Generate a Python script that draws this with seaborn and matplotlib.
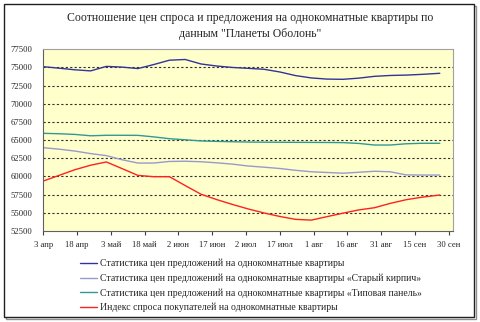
import matplotlib
matplotlib.use("Agg")
import matplotlib.pyplot as plt
from matplotlib.patches import Rectangle
import pandas as pd
import seaborn as sns

# Observation dates (2008)
dates = [
    "2008-04-03", "2008-04-10", "2008-04-17", "2008-04-24", "2008-05-01",
    "2008-05-08", "2008-05-15", "2008-05-22", "2008-05-29", "2008-06-05",
    "2008-06-12", "2008-06-19", "2008-06-26", "2008-07-03", "2008-07-10",
    "2008-07-17", "2008-07-24", "2008-07-31", "2008-08-07", "2008-08-14",
    "2008-08-21", "2008-08-28", "2008-09-04", "2008-09-11", "2008-09-18",
    "2008-09-26",
]

# Offer price statistics, all one-room flats
offer_all = [75110, 74900, 74680, 74530, 75150, 75050, 74850, 75400, 76000, 76100,
             75480, 75200, 75000, 74880, 74750, 74380, 73880, 73560, 73400, 73370,
             73530, 73780, 73900, 73950, 74050, 74200]
# Offer price statistics, "old brick" buildings
offer_brick = [63960, 63760, 63500, 63150, 62870, 62300, 61850, 61850, 62070, 62100,
               62030, 61880, 61700, 61440, 61280, 61100, 60850, 60650, 60550, 60450,
               60580, 60720, 60650, 60220, 60200, 60200]
# Offer price statistics, standard panel buildings
offer_panel = [65940, 65880, 65790, 65600, 65670, 65670, 65660, 65450, 65200, 65050,
               64890, 64830, 64780, 64740, 64720, 64710, 64700, 64690, 64680, 64660,
               64550, 64330, 64330, 64500, 64570, 64570]
# Buyers' demand index
demand = [59380, 60150, 60930, 61550, 62000, 61080, 60150, 59970, 59970, 58750,
          57560, 56820, 56150, 55530, 54980, 54500, 54100, 54000, 54480, 54950,
          55400, 55700, 56300, 56800, 57150, 57450]

series_names = [
    "Статистика цен предложений на однокомнатные квартиры",
    "Статистика цен предложений на однокомнатные квартиры «Старый кирпич»",
    "Статистика цен предложений на однокомнатные квартиры «Типовая панель»",
    "Индекс спроса покупателей на однокомнатные квартиры",
]
series_colors = ["#333399", "#9999CC", "#2E9A96", "#FF2020"]

x_tick_labels = ["3 апр", "18 апр", "3 май", "18 май", "2 июн", "17 июн", "2 июл",
                 "17 июл", "1 авг", "16 авг", "31 авг", "15 сен", "30 сен"]
y_ticks = [52500, 55000, 57500, 60000, 62500, 65000, 67500, 70000, 72500, 75000, 77500]

title = ("Соотношение цен спроса и предложения на однокомнатные квартиры по\n"
         "данным \"Планеты Оболонь\"")

start = pd.Timestamp(dates[0])
days = [(pd.Timestamp(d) - start).days for d in dates]

frames = []
for name, vals in zip(series_names, [offer_all, offer_brick, offer_panel, demand]):
    frames.append(pd.DataFrame({"day": days, "value": vals, "series": name}))
df = pd.concat(frames, ignore_index=True)

sns.set_theme(style="white")
plt.rcParams["font.family"] = ["Liberation Serif", "DejaVu Serif"]

fig = plt.figure(figsize=(4.8, 3.22), dpi=100)
fig.patch.set_facecolor("white")

# outer chart border with a thin shadow on the right/bottom
fig.add_artist(Rectangle((6 / 480, 1 - 318.5 / 322), 470 / 480, 313 / 322,
                         transform=fig.transFigure, fill=False,
                         edgecolor="#909090", linewidth=1.0, zorder=-3))
fig.add_artist(Rectangle((4 / 480, 1 - 317 / 322), 470 / 480, 313 / 322,
                         transform=fig.transFigure, facecolor="white",
                         edgecolor="#202020", linewidth=1.0, zorder=-2))

ax = fig.add_axes([43.3 / 480, 1 - 231 / 322, 410 / 480, 181.7 / 322])
ax.set_facecolor("#FFFFCC")

sns.lineplot(data=df, x="day", y="value", hue="series", hue_order=series_names,
             palette=series_colors, linewidth=1.0, ax=ax, legend=True)

ax.set_xlim(0, 182)
ax.set_ylim(52500, 77500)
ax.set_xticks([15 * i for i in range(len(x_tick_labels))])
ax.set_xticklabels(x_tick_labels, fontsize=6.2)
ax.set_yticks(y_ticks)
ax.set_yticklabels([str(v) for v in y_ticks], fontsize=6.2)
ax.set_xlabel("")
ax.set_ylabel("")

ax.tick_params(axis="x", direction="out", length=3, width=0.8, color="#404040", pad=4,
               bottom=True)
ax.tick_params(axis="y", length=0, pad=8)

for v in y_ticks[1:-1]:
    ax.axhline(v, color="#303030", linestyle=(0, (2, 2)), linewidth=0.8, zorder=0.5)

for side in ["top", "right"]:
    ax.spines[side].set_color("#A0A0A0")
    ax.spines[side].set_linewidth(0.8)
for side in ["left", "bottom"]:
    ax.spines[side].set_color("#606060")
    ax.spines[side].set_linewidth(0.8)

fig.text(250 / 480, 1 - 26 / 322, title, ha="center", va="center",
         fontsize=8.5, linespacing=1.45)

handles, labels = ax.get_legend_handles_labels()
leg = ax.legend(handles, labels, loc="upper left",
                bbox_to_anchor=(80 / 480, 1 - 259 / 322),
                bbox_transform=fig.transFigure, frameon=False, fontsize=7,
                handlelength=1.75, handletextpad=0.3, labelspacing=0.52,
                borderpad=0, borderaxespad=0)

fig.savefig("out.png", dpi=100)
